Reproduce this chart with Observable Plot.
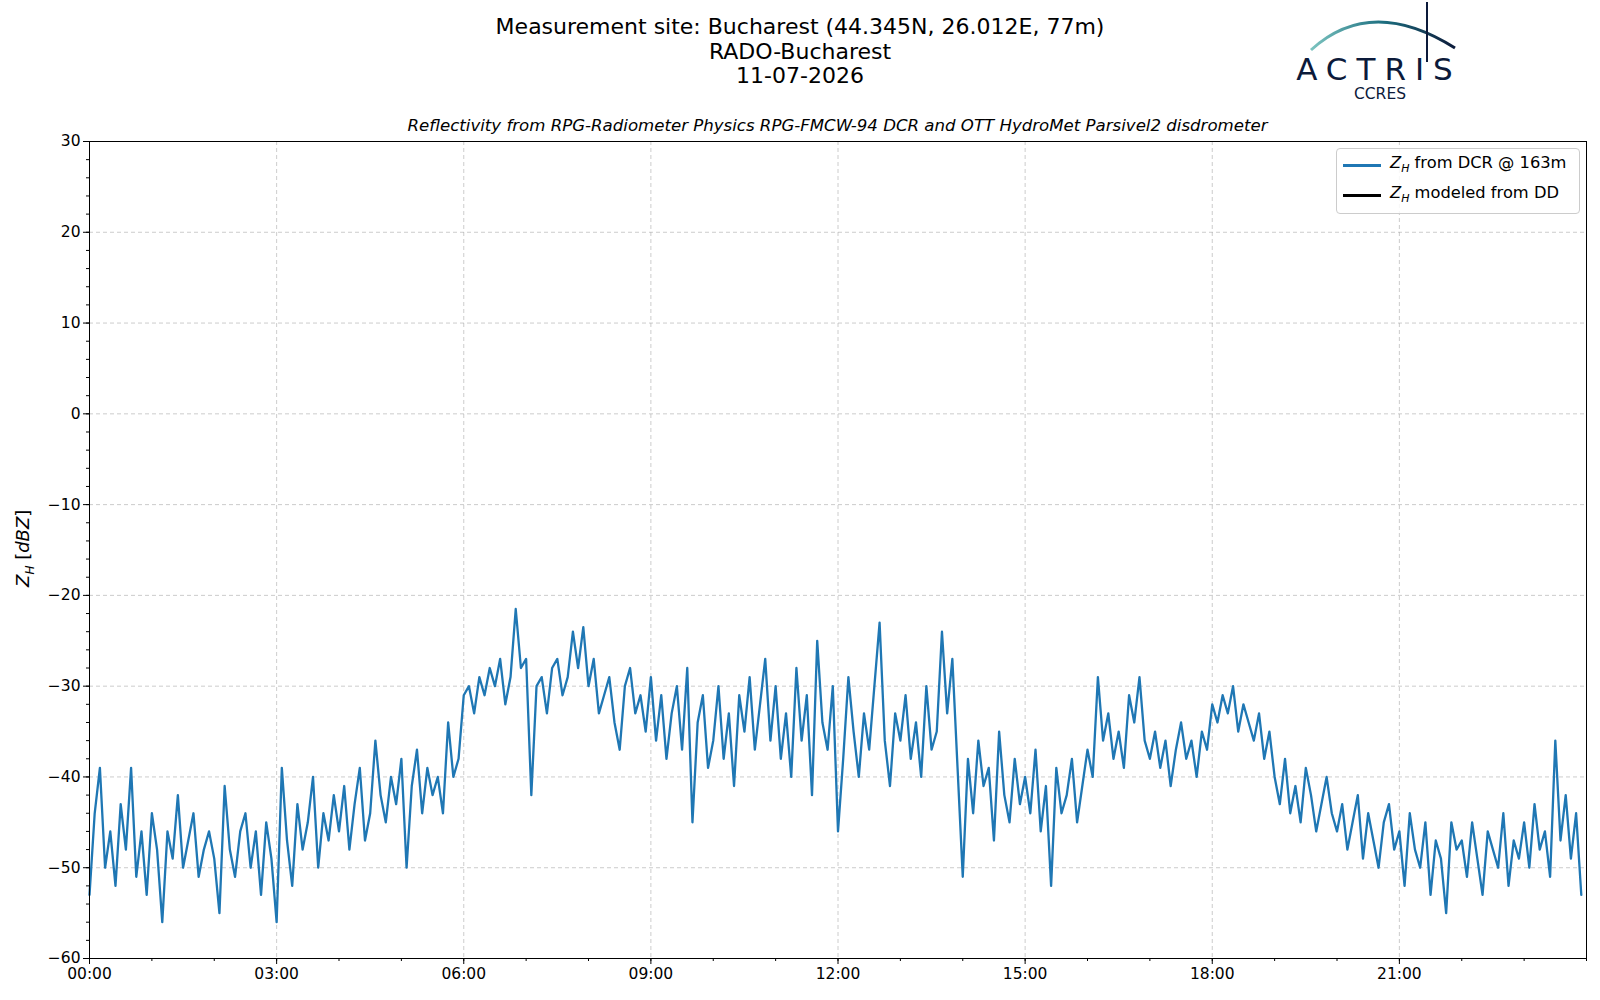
<!DOCTYPE html>
<html><head><meta charset="utf-8">
<script src="https://cdn.jsdelivr.net/npm/d3@7"></script>
<script src="https://cdn.jsdelivr.net/npm/@observablehq/plot@0.6"></script>
<style>
html,body{margin:0;background:#fff;font-family:"DejaVu Sans",sans-serif;overflow:hidden;width:1600px;height:1000px;}
#wrap{position:relative;width:1600px;height:1000px;overflow:hidden;}
#chart{position:absolute;left:0;top:0;}
#chart svg{display:block;}
.t{position:absolute;white-space:nowrap;color:#000;}
</style></head><body>
<div id="wrap">
<div id="chart"></div>
<div class="t" style="left:0;width:1600px;top:15px;text-align:center;font-size:22px;line-height:24.5px">Measurement site: Bucharest (44.345N, 26.012E, 77m)<br>RADO-Bucharest<br>11-07-2026</div>
<div class="t" style="left:89px;width:1497px;top:116px;text-align:center;font-size:16.6px;font-style:italic">Reflectivity from RPG-Radiometer Physics RPG-FMCW-94 DCR and OTT HydroMet Parsivel2 disdrometer</div>
<div class="t" style="left:-14px;top:536px;font-size:18px;transform:rotate(-90deg);transform-origin:center"><i>Z<sub style="font-size:12px">H</sub></i> [<i>dBZ</i>]</div>
<div class="t" style="left:1336px;top:148px;width:242px;height:64px;border:1px solid #ccc;border-radius:4px;background:rgba(255,255,255,0.85);font-size:16.3px">
 <div style="position:absolute;left:6px;top:15px;width:38px;height:2.5px;background:#1f77b4"></div>
 <div style="position:absolute;left:53px;top:4px"><i>Z<sub style="font-size:11px">H</sub></i> from DCR @ 163m</div>
 <div style="position:absolute;left:6px;top:45px;width:38px;height:2.5px;background:#000"></div>
 <div style="position:absolute;left:53px;top:34px"><i>Z<sub style="font-size:11px">H</sub></i> modeled from DD</div>
</div>
<svg class="t" style="left:1291px;top:0" width="180" height="104">
 <defs><linearGradient id="g" x1="0" x2="1"><stop offset="0" stop-color="#7cc4c0"/><stop offset="0.5" stop-color="#1d6f80"/><stop offset="1" stop-color="#0c1a3a"/></linearGradient></defs>
 <path d="M20,50 Q80,-5 164,48" fill="none" stroke="url(#g)" stroke-width="3"/>
 <line x1="136" y1="2" x2="136" y2="62" stroke="#0c1a3a" stroke-width="2"/>
 <text x="88" y="80" text-anchor="middle" font-size="31" letter-spacing="9" fill="#0c1a3a" font-family="DejaVu Sans">ACTRIS</text>
 <text x="89" y="99" text-anchor="middle" font-size="15.5" fill="#0c1a3a" font-family="DejaVu Sans">CCRES</text>
</svg>
</div>
<script>
const dcr = [
-53,-44,-39,-50,-46,-52,-43,-48,-39,-51,-46,-53,
-44,-48,-56,-46,-49,-42,-50,-47,-44,-51,-48,-46,
-49,-55,-41,-48,-51,-46,-44,-50,-46,-53,-45,-49,
-56,-39,-47,-52,-43,-48,-45,-40,-50,-44,-47,-42,
-46,-41,-48,-43,-39,-47,-44,-36,-42,-45,-40,-43,
-38,-50,-41,-37,-44,-39,-42,-40,-44,-34,-40,-38,
-31,-30,-33,-29,-31,-28,-30,-27,-32,-29,-21.5,-28,
-27,-42,-30,-29,-33,-28,-27,-31,-29,-24,-28,-23.5,
-30,-27,-33,-31,-29,-34,-37,-30,-28,-33,-31,-35,
-29,-36,-31,-38,-33,-30,-37,-28,-45,-34,-31,-39,
-36,-30,-38,-33,-41,-31,-35,-29,-37,-32,-27,-36,
-30,-38,-33,-40,-28,-36,-31,-42,-25,-34,-37,-30,
-46,-38,-29,-35,-40,-33,-37,-30,-23,-36,-41,-33,
-36,-31,-38,-34,-40,-30,-37,-35,-24,-33,-27,-39,
-51,-38,-44,-36,-41,-39,-47,-35,-42,-45,-38,-43,
-40,-44,-37,-46,-41,-52,-39,-44,-42,-38,-45,-41,
-37,-40,-29,-36,-33,-38,-35,-39,-31,-34,-29,-36,
-38,-35,-39,-36,-41,-37,-34,-38,-36,-40,-35,-37,
-32,-34,-31,-33,-30,-35,-32,-34,-36,-33,-38,-35,
-40,-43,-38,-44,-41,-45,-39,-42,-46,-43,-40,-44,
-46,-43,-48,-45,-42,-49,-44,-47,-50,-45,-43,-48,
-46,-52,-44,-48,-50,-45,-53,-47,-49,-55,-45,-48,
-47,-51,-45,-49,-53,-46,-48,-50,-44,-52,-47,-49,
-45,-50,-43,-48,-46,-51,-36,-47,-42,-49,-44,-53];
const stepMinutes = 5;
const day0 = Date.UTC(2026,6,11);
const data = dcr.map((v,i)=>({t:new Date(day0+i*stepMinutes*60000), z:v}));
const majorX = d3.range(0,24,3).map(h=>new Date(day0+h*3600000));
const minorX = d3.range(0,25,1).map(h=>new Date(day0+h*3600000));
const majorY = d3.range(-60,31,10);
const minorY = d3.range(-60,31,2);
const chart = Plot.plot({
  width:1600,height:1000,marginLeft:89,marginRight:14,marginTop:141,marginBottom:42,
  style:{fontFamily:"DejaVu Sans",fontSize:"15.5px",color:"#000"},
  x:{type:"utc",domain:[new Date(day0),new Date(day0+86400000)]},
  y:{domain:[-60,30]},
  marks:[
    Plot.gridX(majorX.slice(1),{stroke:"#aaa",strokeOpacity:0.6,strokeDasharray:"4,3"}),
    Plot.gridY(majorY.slice(1,-1),{stroke:"#aaa",strokeOpacity:0.6,strokeDasharray:"4,3"}),
    Plot.axisX(minorX,{tickSize:3,text:null,label:null}),
    Plot.axisY(minorY,{tickSize:3,text:null,label:null}),
    Plot.axisX(majorX,{tickSize:6,tickFormat:d3.utcFormat("%H:%M"),label:null,fontSize:15.5,tickPadding:3}),
    Plot.axisY(majorY,{tickSize:6,tickFormat:d=>d<0?"\u2212"+(-d):d,label:null,fontSize:15.5}),
    Plot.line(data,{x:"t",y:"z",stroke:"#1f77b4",strokeWidth:2.3}),
    Plot.frame({stroke:"#000"})
  ]
});
document.getElementById("chart").appendChild(chart);
</script>
</body></html>
